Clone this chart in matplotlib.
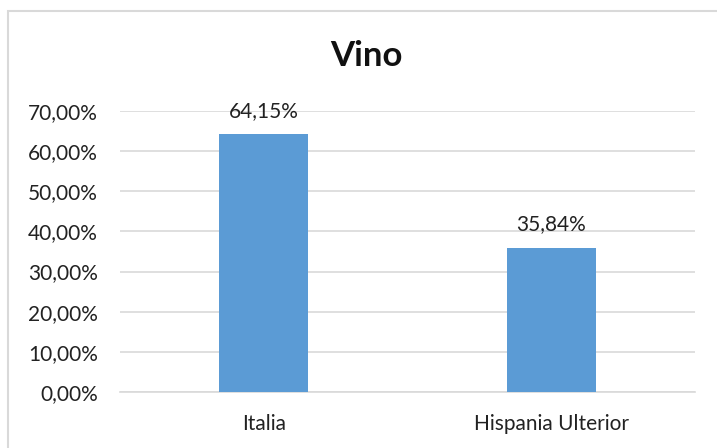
import matplotlib
matplotlib.use('Agg')
import matplotlib.pyplot as plt
from matplotlib.patches import Rectangle

categories = ['Italia', 'Hispania Ulterior']
values = [0.6415, 0.3584]
labels = ['64,15%', '35,84%']
yticks = [0.0, 0.1, 0.2, 0.3, 0.4, 0.5, 0.6, 0.7]

plt.rcParams['font.family'] = ['Lato', 'DejaVu Sans']

fig = plt.figure(figsize=(7.17, 4.48), dpi=100)
ax = fig.add_axes([120 / 717, 1 - 392 / 448, 575 / 717, 281 / 448])

x = list(range(len(categories)))
bars = ax.bar(x, values, width=0.31, color='#5B9BD5', zorder=3)

for b, lab in zip(bars, labels):
    ax.annotate(lab, (b.get_x() + b.get_width() / 2, b.get_height()),
                xytext=(0, 10), textcoords='offset points',
                ha='center', va='bottom', fontsize=15, color='#222222')

ax.set_xlim(-0.5, 1.5)
ax.set_ylim(0, 0.70)
ax.set_yticks(yticks)
ax.set_yticklabels([('%.2f%%' % (v * 100)).replace('.', ',') for v in yticks])
ax.set_xticks(x)
ax.set_xticklabels(categories)
ax.tick_params(axis='both', length=0, labelsize=15, colors='#222222')
ax.tick_params(axis='y', pad=16)
ax.tick_params(axis='x', pad=16)
ax.grid(axis='y', color='#d9d9d9', linewidth=1.2, zorder=0)
for s in ['top', 'right', 'left']:
    ax.spines[s].set_visible(False)
ax.spines['bottom'].set_color('#d9d9d9')
ax.spines['bottom'].set_linewidth(1.2)

fig.text(366 / 717, 1 - 56 / 448, 'Vino', ha='center', va='center',
         fontsize=25, fontweight='bold', color='#111111')

# chart border, cut off at right and bottom edges
fig.patches.append(Rectangle((8 / 717, -0.1), 1.2, 0.1 + 437 / 448,
                             transform=fig.transFigure, fill=False,
                             edgecolor='#d9d9d9', linewidth=1.5))

fig.savefig('out.png', dpi=100)
